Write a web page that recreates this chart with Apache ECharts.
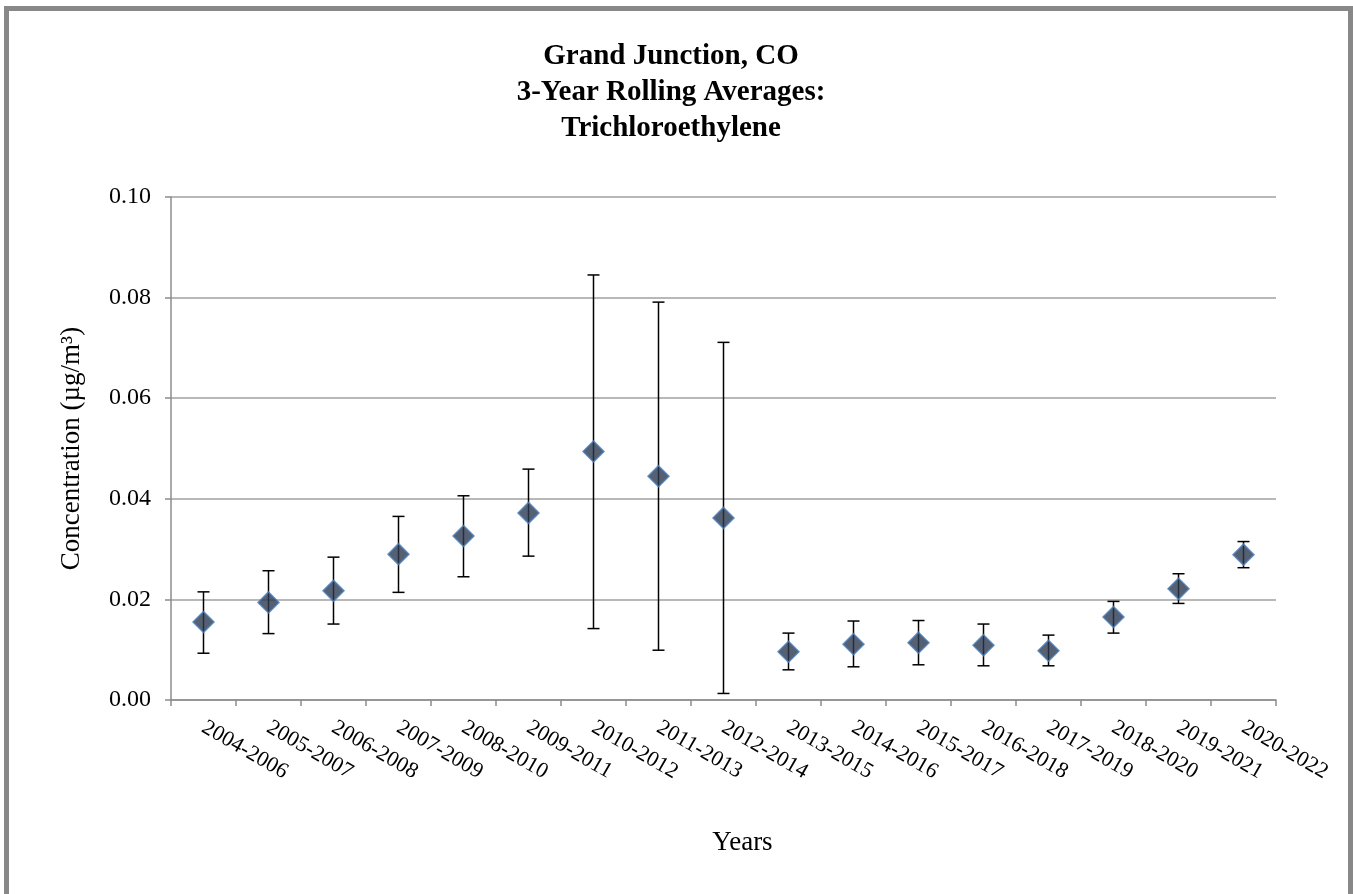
<!DOCTYPE html>
<html>
<head>
<meta charset="utf-8">
<title>Grand Junction, CO - Trichloroethylene</title>
<script src="https://cdn.jsdelivr.net/npm/echarts@6/dist/echarts.min.js"></script>
<style>
  html, body { margin: 0; padding: 0; background: #ffffff; }
  #chart { width: 1353px; height: 894px; }
</style>
</head>
<body>
<div id="chart"></div>
<script>
// 3-year rolling periods
const categories = [
  '2004-2006', '2005-2007', '2006-2008', '2007-2009', '2008-2010', '2009-2011',
  '2010-2012', '2011-2013', '2012-2014', '2013-2015', '2014-2016', '2015-2017',
  '2016-2018', '2017-2019', '2018-2020', '2019-2021', '2020-2022'
];

// Rolling average concentration (µg/m³)
const averages = [
  0.0155, 0.0194, 0.0217, 0.0290, 0.0326, 0.0372,
  0.0494, 0.0445, 0.0362, 0.0096, 0.0111, 0.0114,
  0.0109, 0.0098, 0.0165, 0.0221, 0.0289
];

// Lower and upper bounds of the error bars
const lowerBounds = [
  0.0093, 0.0132, 0.0151, 0.0214, 0.0245, 0.0286,
  0.0142, 0.0099, 0.0013, 0.0060, 0.0066, 0.0070,
  0.0068, 0.0068, 0.0133, 0.0192, 0.0263
];
const upperBounds = [
  0.0215, 0.0257, 0.0284, 0.0365, 0.0406, 0.0459,
  0.0845, 0.0791, 0.0711, 0.0133, 0.0157, 0.0158,
  0.0151, 0.0129, 0.0196, 0.0251, 0.0315
];

// Value axis ticks
const yMin = 0;
const yMax = 0.10;
const yStep = 0.02;

const FONT = "'Liberation Serif', 'Times New Roman', serif";

const errorData = categories.map((c, i) => [i, lowerBounds[i], upperBounds[i]]);

const chart = echarts.init(document.getElementById('chart'), null, { renderer: 'canvas' });

chart.setOption({
  backgroundColor: '#ffffff',
  animation: false,
  title: {
    text: 'Grand Junction, CO\n3-Year Rolling Averages:\nTrichloroethylene',
    left: 666,
    top: 34,
    textAlign: 'center',
    textStyle: {
      fontFamily: FONT,
      fontWeight: 'bold',
      fontSize: 29,
      lineHeight: 36,
      color: '#000000'
    }
  },
  graphic: [{
    type: 'rect',
    silent: true,
    shape: { x: 6.5, y: 8.5, width: 1344, height: 900 },
    style: { fill: 'none', stroke: '#888888', lineWidth: 5 }
  }],
  grid: {
    left: 171,
    right: 77,
    top: 197,
    bottom: 194,
    containLabel: false
  },
  xAxis: {
    type: 'category',
    data: categories,
    boundaryGap: true,
    name: 'Years',
    nameLocation: 'middle',
    nameGap: 129,
    nameTextStyle: {
      fontFamily: FONT,
      fontSize: 27,
      color: '#000000',
      padding: [0, 0, 0, 38]
    },
    axisLine: { show: true, lineStyle: { color: '#8c8c8c', width: 1.5 } },
    axisTick: { show: true, alignWithLabel: false, length: 6, lineStyle: { color: '#8c8c8c', width: 1.5 } },
    axisLabel: {
      interval: 0,
      rotate: -30,
      margin: 26,
      fontFamily: FONT,
      fontSize: 22,
      color: '#000000'
    },
    splitLine: { show: false }
  },
  yAxis: {
    type: 'value',
    min: yMin,
    max: yMax,
    interval: yStep,
    name: 'Concentration (µg/m³)',
    nameLocation: 'middle',
    nameGap: 86,
    nameRotate: 90,
    nameTextStyle: {
      fontFamily: FONT,
      fontSize: 27,
      color: '#000000'
    },
    axisLine: { show: true, lineStyle: { color: '#8c8c8c', width: 1.5 } },
    axisTick: { show: true, inside: false, length: 6, lineStyle: { color: '#8c8c8c', width: 1.5 } },
    axisLabel: {
      margin: 20,
      fontFamily: FONT,
      fontSize: 24,
      color: '#000000',
      formatter: v => v.toFixed(2)
    },
    splitLine: { show: true, lineStyle: { color: '#a0a0a0', width: 1.5 } }
  },
  series: [
    {
      name: 'Range',
      type: 'custom',
      z: 2,
      data: errorData,
      encode: { x: 0, y: [1, 2] },
      renderItem: function (params, api) {
        const idx = api.value(0);
        const lo = api.coord([idx, api.value(1)]);
        const hi = api.coord([idx, api.value(2)]);
        const cap = 6;
        const style = { stroke: '#000000', lineWidth: 1.5 };
        return {
          type: 'group',
          children: [
            { type: 'line', shape: { x1: lo[0], y1: lo[1], x2: hi[0], y2: hi[1] }, style: style },
            { type: 'line', shape: { x1: hi[0] - cap, y1: hi[1], x2: hi[0] + cap, y2: hi[1] }, style: style },
            { type: 'line', shape: { x1: lo[0] - cap, y1: lo[1], x2: lo[0] + cap, y2: lo[1] }, style: style }
          ]
        };
      }
    },
    {
      name: 'Average',
      type: 'scatter',
      z: 3,
      symbol: 'diamond',
      symbolSize: 21,
      data: averages,
      itemStyle: {
        color: '#2c3850',
        borderColor: '#4a7ebb',
        borderWidth: 1.5
      }
    }
  ]
});
</script>
</body>
</html>
